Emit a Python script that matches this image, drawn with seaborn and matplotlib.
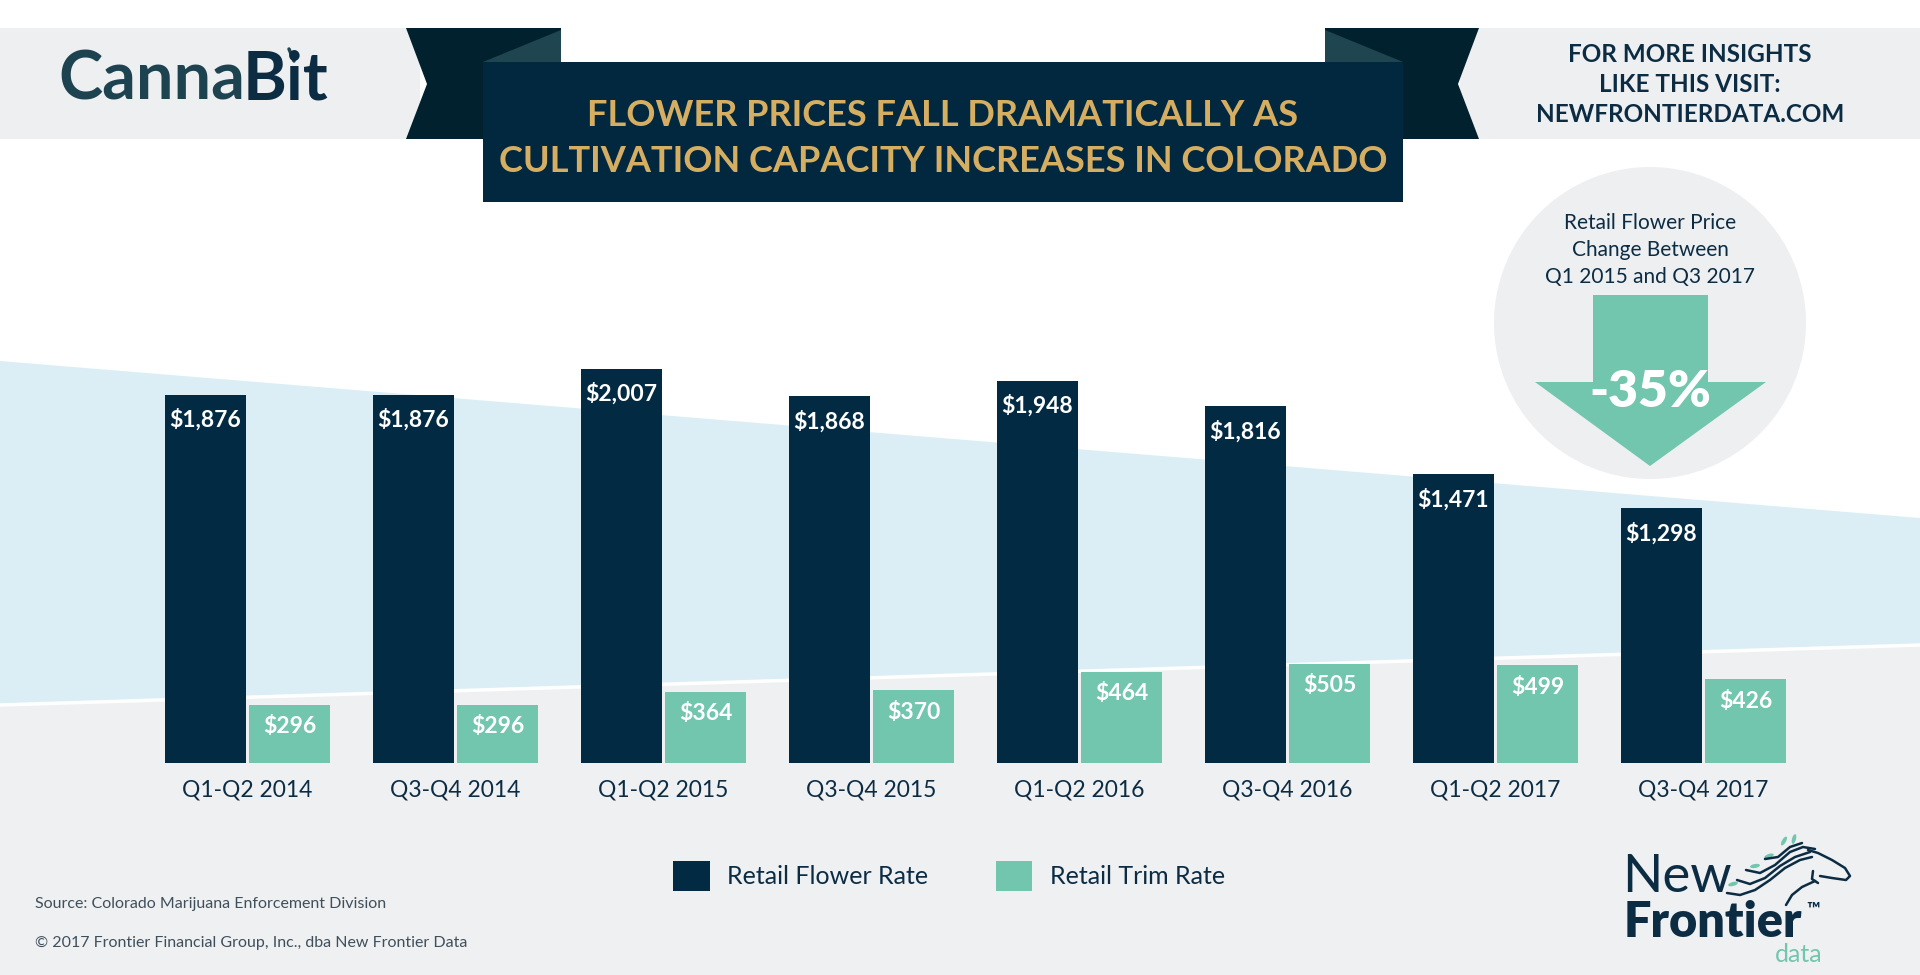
import matplotlib
matplotlib.use("Agg")
import matplotlib.pyplot as plt
import seaborn as sns
import pandas as pd
from matplotlib.patches import Polygon, Circle, Ellipse

# data
periods = ["Q1-Q2 2014", "Q3-Q4 2014", "Q1-Q2 2015", "Q3-Q4 2015",
           "Q1-Q2 2016", "Q3-Q4 2016", "Q1-Q2 2017", "Q3-Q4 2017"]
flower_rate = [1876, 1876, 2007, 1868, 1948, 1816, 1471, 1298]
trim_rate = [296, 296, 364, 370, 464, 505, 499, 426]
series_names = ["Retail Flower Rate", "Retail Trim Rate"]
price_change = "-35%"

NAVY = "#022a43"
GREEN = "#73c6ae"
TEXT = "#0c2c44"
GOLD = "#d6ae62"
GRAY = "#eeeff1"
BLUE = "#dceef5"
W, H = 1920, 975

sns.set_theme(style="white")
plt.rcParams["font.family"] = ["Lato", "DejaVu Sans"]

fig = plt.figure(figsize=(19.2, 9.75), dpi=100, facecolor="white")

# background layer in pixel coordinates
bg = fig.add_axes([0, 0, 1, 1], zorder=0)
bg.set_xlim(0, W)
bg.set_ylim(H, 0)
bg.axis("off")

bg.add_patch(Polygon([(0, 361), (W, 518), (W, 645), (0, 705)], color=BLUE, lw=0))
bg.add_patch(Polygon([(0, 705), (W, 645), (W, H), (0, H)], color="#eff0f2", lw=0))
bg.plot([0, W], [705, 645], color="white", lw=2.5)

# header bands and ribbon
bg.add_patch(Polygon([(0, 28), (420, 28), (420, 139), (0, 139)], color=GRAY, lw=0))
bg.add_patch(Polygon([(1460, 28), (W, 28), (W, 139), (1460, 139)], color=GRAY, lw=0))
bg.add_patch(Polygon([(406, 28), (561, 28), (561, 139), (406, 139), (427, 84)], color="#02212f", lw=0))
bg.add_patch(Polygon([(1325, 28), (1479, 28), (1458, 84), (1479, 139), (1325, 139)], color="#02212f", lw=0))
bg.add_patch(Polygon([(483, 62), (561, 30), (561, 62)], color="#1f4650", lw=0))
bg.add_patch(Polygon([(1325, 30), (1403, 62), (1325, 62)], color="#1f4650", lw=0))
bg.add_patch(Polygon([(483, 62), (1403, 62), (1403, 202), (483, 202)], color="#022840", lw=0))

bg.text(943, 115, "FLOWER PRICES FALL DRAMATICALLY AS", ha="center", va="center",
        color=GOLD, fontsize=26, fontweight="bold")
bg.text(943, 161, "CULTIVATION CAPACITY INCREASES IN COLORADO", ha="center", va="center",
        color=GOLD, fontsize=26, fontweight="bold")

bg.text(58, 80, "Canna", ha="left", va="center", color="#1e4350", fontsize=48, fontweight="bold")
bg.text(243, 80, "Bit", ha="left", va="center", color=TEXT, fontsize=48, fontweight="bold")
bg.plot([289, 294], [49, 61], color="#1f4650", lw=2.5, solid_capstyle="round")

for yy, line in zip([54, 84, 114], ["FOR MORE INSIGHTS", "LIKE THIS VISIT:", "NEWFRONTIERDATA.COM"]):
    bg.text(1690, yy, line, ha="center", va="center", color=TEXT, fontsize=17.5, fontweight="bold")

# callout circle with arrow
bg.add_patch(Circle((1650, 323), 156, color=GRAY, lw=0))
for yy, line in zip([223, 250, 277], ["Retail Flower Price", "Change Between", "Q1 2015 and Q3 2017"]):
    bg.text(1650, yy, line, ha="center", va="center", color=TEXT, fontsize=15)
bg.add_patch(Polygon([(1593, 295), (1708, 295), (1708, 382), (1766, 382), (1650, 466),
                      (1535, 382), (1593, 382)], color=GREEN, lw=0))
bg.text(1650, 392, price_change, ha="center", va="center", color="white", fontsize=37, fontweight="heavy")

# footer
bg.text(35, 904, "Source: Colorado Marijuana Enforcement Division", ha="left", va="center",
        color="#3f4f5b", fontsize=11.5)
bg.text(35, 943, "\u00a9 2017 Frontier Financial Group, Inc., dba New Frontier Data", ha="left",
        va="center", color="#3f4f5b", fontsize=11.5)

# New Frontier logo: words plus a rough horse sketch
bg.text(1622, 877, "New", ha="left", va="center", color=TEXT, fontsize=38)
bg.text(1624, 937, "Frontier", ha="left", va="baseline", color=TEXT, fontsize=35, fontweight="heavy")
bg.text(1806, 909, "\u2122", ha="left", va="center", color=TEXT, fontsize=13, fontweight="bold")
bg.text(1823, 962, "data", ha="right", va="baseline", color=GREEN, fontsize=18)

horse = [
    [(1808, 850), (1818, 853), (1832, 860), (1845, 868), (1850, 876), (1846, 880), (1832, 878), (1820, 876)],
    [(1813, 871), (1812, 879), (1818, 883)],
    [(1815, 881), (1802, 887), (1792, 895), (1786, 905)],
    [(1727, 893), (1740, 895), (1755, 890), (1770, 880), (1785, 868), (1800, 860), (1812, 857)],
    [(1737, 880), (1750, 884), (1765, 878), (1780, 866), (1795, 857), (1810, 852)],
    [(1746, 870), (1760, 873), (1775, 865), (1790, 852), (1803, 847), (1815, 849)],
    [(1765, 859), (1778, 857), (1790, 847), (1802, 843)],
]
for stroke in horse:
    xs, ys = zip(*stroke)
    bg.plot(xs, ys, color=TEXT, lw=1.8, solid_capstyle="round", solid_joinstyle="round")
for cx, cy, ang in [(1784, 841, -60), (1794, 839, -75), (1769, 856, -20), (1755, 866, -10), (1733, 884, -15)]:
    bg.add_patch(Ellipse((cx, cy), 10, 4, angle=ang, color=GREEN, lw=0))

# bar chart
df = pd.DataFrame({
    "period": periods * 2,
    "rate": flower_rate + trim_rate,
    "series": [series_names[0]] * len(periods) + [series_names[1]] * len(periods),
})

ax = fig.add_axes([143.5 / W, (H - 763) / H, 1664 / W, 431.9 / H], zorder=1)
ax.patch.set_alpha(0)
sns.barplot(data=df, x="period", y="rate", hue="series", palette=[NAVY, GREEN],
            width=0.8125, gap=0.04, saturation=1, linewidth=0, ax=ax)
ax.set_xlim(-0.5, len(periods) - 0.5)
ax.set_ylim(0, 2200)
ax.set_xlabel("")
ax.set_ylabel("")
ax.set_yticks([])
ax.tick_params(axis="x", length=0, pad=12, labelsize=16.5, labelcolor=TEXT)
sns.despine(ax=ax, left=True, bottom=True)

for cont, off in zip(ax.containers, [-25, -22]):
    for bar in cont:
        v = bar.get_height()
        ax.annotate(f"${v:,.0f}", (bar.get_x() + bar.get_width() / 2, v), xytext=(0, off),
                    textcoords="offset pixels", ha="center", va="center",
                    color="white", fontsize=16.5, fontweight="bold")

handles, labels = ax.get_legend_handles_labels()
ax.legend(handles, labels, ncol=2, loc="center", bbox_to_anchor=(949 / W, 1 - 876 / H),
          bbox_transform=fig.transFigure, frameon=False, fontsize=18, labelcolor=TEXT,
          handlelength=1.45, handleheight=1.45, handletextpad=0.7, columnspacing=2.7)

fig.savefig("out.png", dpi=100, facecolor="white")
